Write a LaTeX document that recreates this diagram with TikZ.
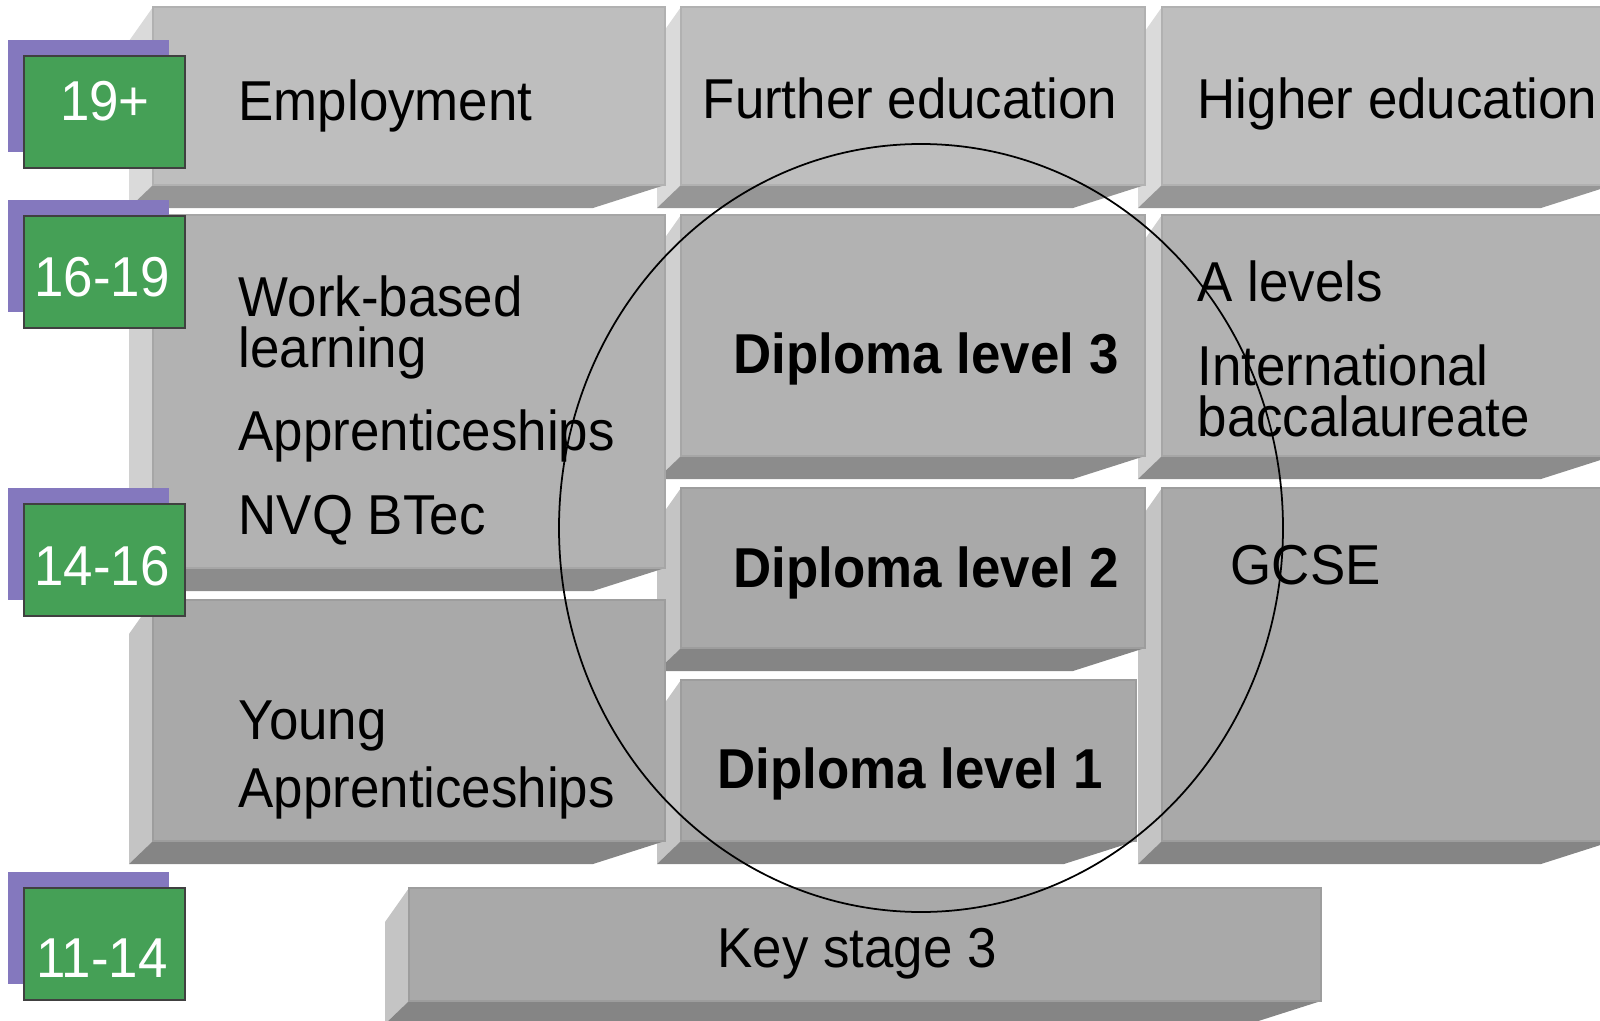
\documentclass[tikz,border=0pt]{standalone}
\usepackage{fontspec}
\setmainfont{Liberation Sans}[FakeStretch=0.94]
\usetikzlibrary{shadows}

% bevelled slab: left, top, right, bottom, shade
\newcommand{\slab}[5]{%
  \fill[side#5] (#1-24,#2+34) -- (#1,#2) -- (#1,#4) -- (#1-24,#4+23) -- cycle;
  \fill[base#5] (#1,#4) -- (#3,#4) -- (#3-72,#4+23) -- (#1-24,#4+23) -- cycle;
  \filldraw[fill=face#5, draw=face#5!93!black, line width=0.6pt] (#1,#2) rectangle (#3,#4);
}

\begin{document}
\begin{tikzpicture}[x=0.1mm, y=-0.1mm,
  txt/.style={anchor=base west, inner sep=0pt, align=left, font=\fontsize{16}{14.5}\selectfont},
  dip/.style={txt, font=\fontsize{16}{14.5}\selectfont\bfseries},
  agebox/.style={fill=agegreen, draw=black!75, line width=0.6pt,
    minimum width=1.61cm, minimum height=1.12cm, inner sep=0pt,
    general shadow={fill=agepurple, shadow xshift=-1.6mm, shadow yshift=1.6mm}},
  agetxt/.style={anchor=base, inner sep=0pt, text=white, font=\fontsize{16}{14.5}\selectfont}]
  % Define colors
  \definecolor{facetop}{gray}{0.745}\definecolor{sidetop}{gray}{0.855}\definecolor{basetop}{gray}{0.59}
  \definecolor{facemid}{gray}{0.70}\definecolor{sidemid}{gray}{0.815}\definecolor{basemid}{gray}{0.55}
  \definecolor{facelow}{gray}{0.663}\definecolor{sidelow}{gray}{0.77}\definecolor{baselow}{gray}{0.52}
  \definecolor{agegreen}{RGB}{69,160,86}
  \definecolor{agepurple}{RGB}{132,120,190}

  \useasboundingbox (0,0) rectangle (1600,1021);
  \clip (0,0) rectangle (1600,1021);

  % Right column
  \slab{1162}{7}{1613}{185}{top}
  \slab{1162}{215}{1613}{456}{mid}
  \slab{1162}{488}{1613}{841}{low}

  % Middle column
  \slab{681}{7}{1145}{185}{top}
  \slab{681}{215}{1145}{456}{mid}
  \slab{681}{488}{1145}{648}{low}
  \slab{681}{680}{1136}{841}{low}

  % Left column
  \slab{153}{7}{665}{185}{top}
  \slab{153}{215}{665}{568}{mid}
  \slab{153}{600}{665}{841}{low}

  % Key stage 3
  \slab{409}{888}{1321}{1001}{low}

  % Routes (multi-line nodes sit on their last baseline)
  \node[txt] (employ) at (238,120) {Employment};
  \node[txt] (further) at (702,118) {Further education};
  \node[txt] (higher) at (1197,118) {Higher education};
  \node[txt] (workbased) at (238,367) {Work-based\\learning};
  \node[txt] (apprent) at (238,450) {Apprenticeships};
  \node[txt] (nvq) at (238,534) {NVQ BTec};
  \node[txt] (young) at (238,807) {Young\\[0.12cm]Apprenticeships};
  \node[dip] (dip3) at (733,373) {Diploma level 3};
  \node[dip] (dip2) at (733,587) {Diploma level 2};
  \node[dip] (dip1) at (717,788) {Diploma level 1};
  \node[txt] (alevels) at (1197,301) {A levels};
  \node[txt] (ib) at (1197,436) {International\\baccalaureate};
  \node[txt] (gcse) at (1230,584) {GCSE};
  \node[txt] (ks3) at (717,967) {Key stage 3};

  % Diploma ring
  \draw[line width=0.5pt] (921,528) ellipse [x radius=362, y radius=384];

  % Age bands
  \node[agebox] (a19) at (104.5,112) {};
  \node[agetxt] (t19) at (105,120) {19+};
  \node[agebox] (a16) at (104.5,272) {};
  \node[agetxt] (t16) at (102,296) {16-19};
  \node[agebox] (a14) at (104.5,560) {};
  \node[agetxt] (t14) at (102,585) {14-16};
  \node[agebox] (a11) at (104.5,944) {};
  \node[agetxt] (t11) at (102,977) {11-14};
\end{tikzpicture}
\end{document}
